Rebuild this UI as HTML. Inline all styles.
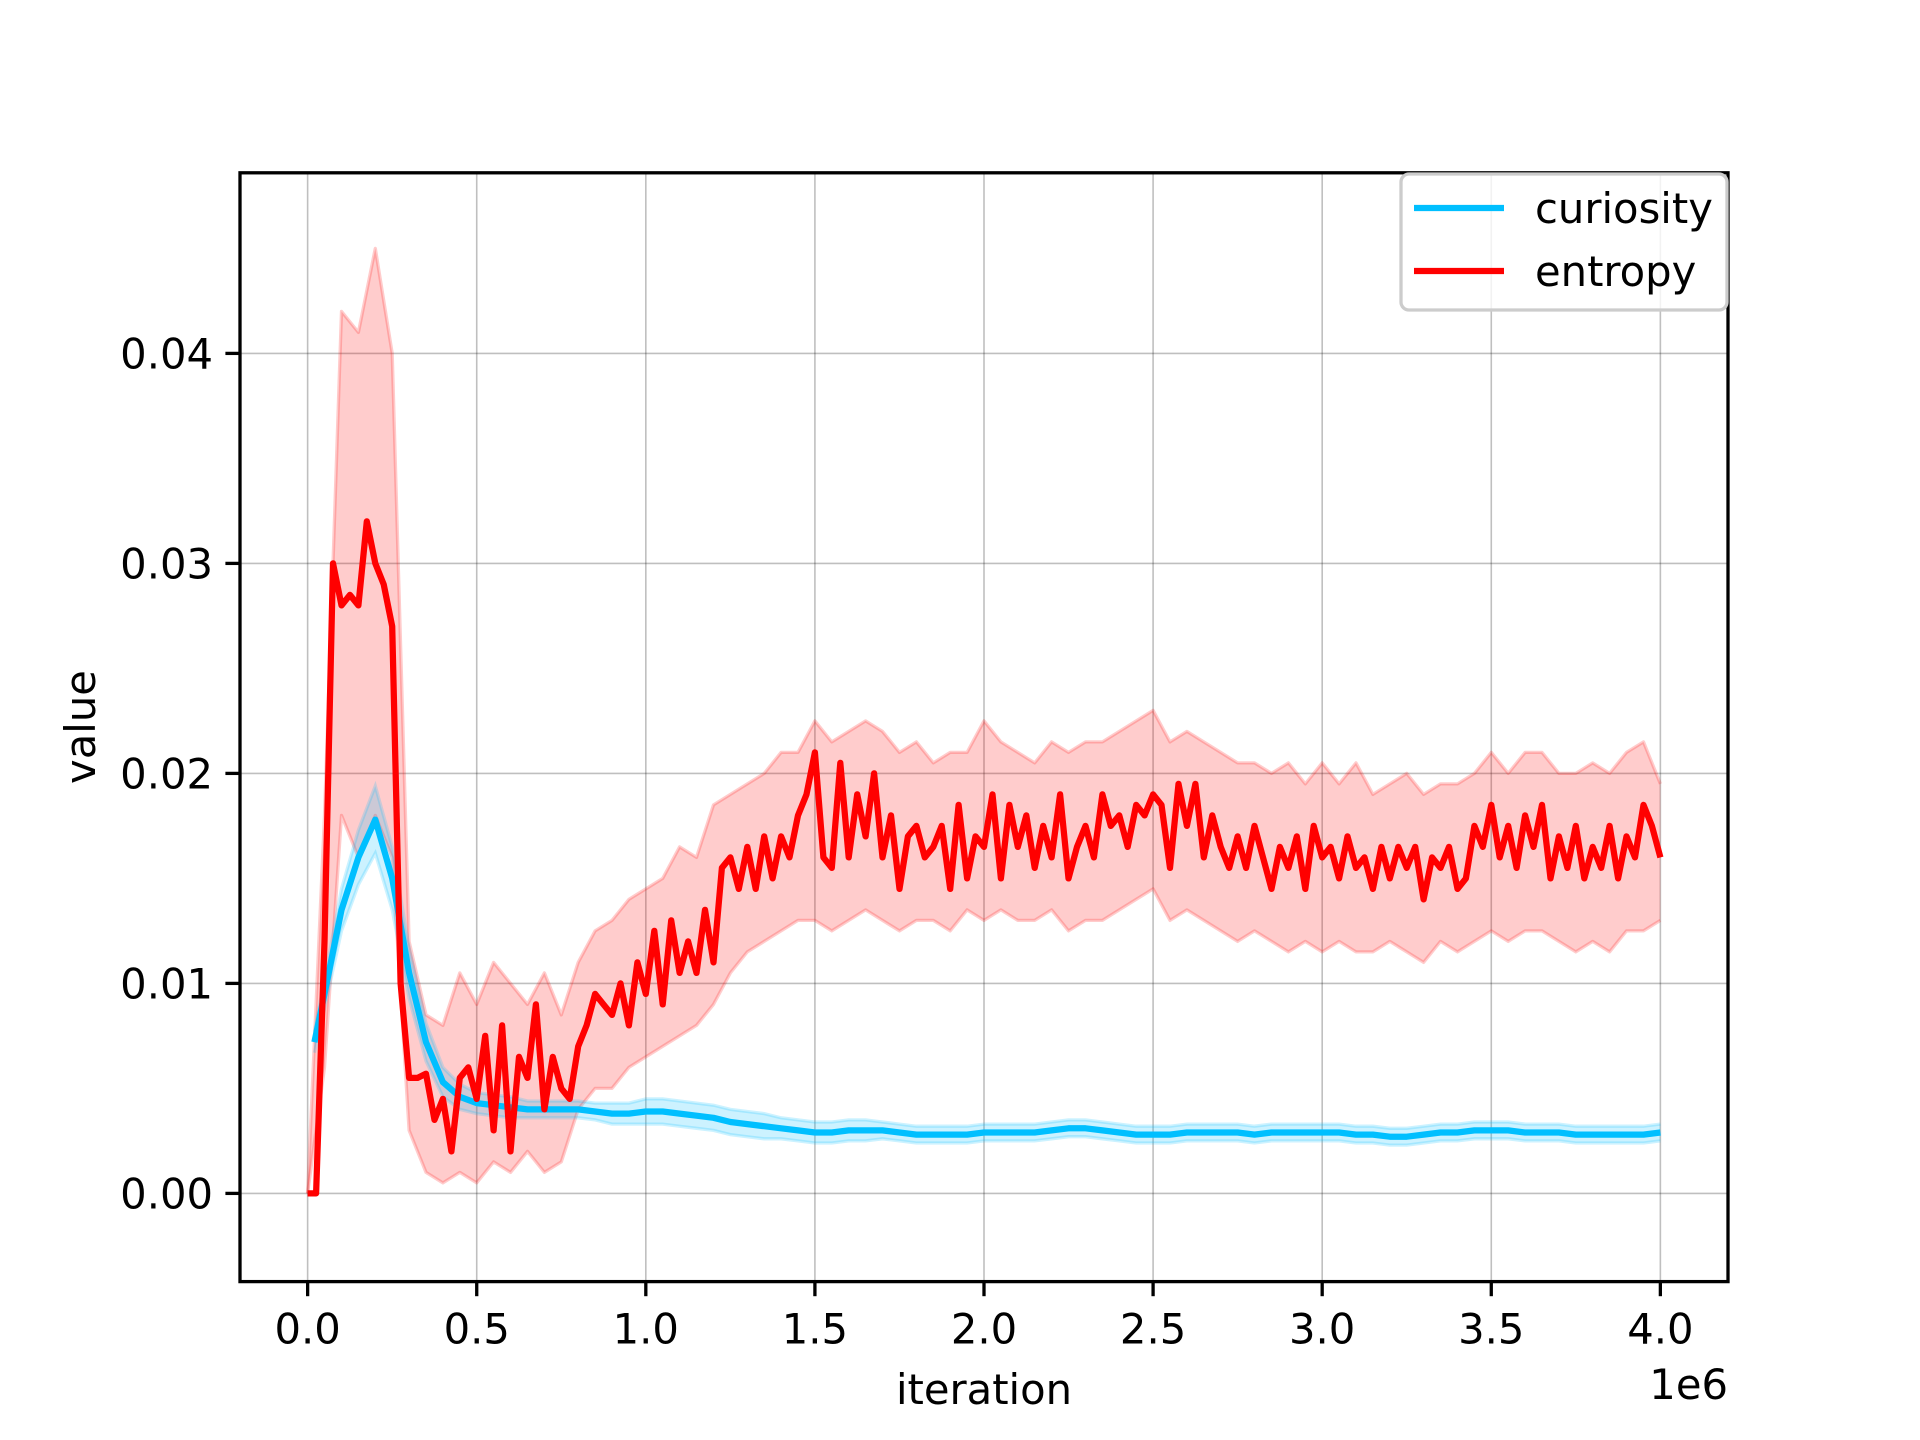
<!DOCTYPE html>
<html><head><meta charset="utf-8"><style>
html,body{margin:0;padding:0;background:#fff;}
svg{display:block;font-family:"DejaVu Sans","Liberation Sans",sans-serif;}
</style></head><body>
<svg id="chart" width="1920" height="1440" viewBox="0 0 1920 1440" xmlns="http://www.w3.org/2000/svg">
<rect width="1920" height="1440" fill="#fff"/>
<g id="grid"></g>
<g id="series"></g>
<g id="axes"></g>
<g id="legend"></g>
</svg>
<script>
const xTicks = [0, 0.5, 1.0, 1.5, 2.0, 2.5, 3.0, 3.5, 4.0];
const xTickLabels = ["0.0","0.5","1.0","1.5","2.0","2.5","3.0","3.5","4.0"];
const yTicks = [0, 0.01, 0.02, 0.03, 0.04];
const yTickLabels = ["0.00","0.01","0.02","0.03","0.04"];
const redStep = 0.025;
const redMean = [0,0,0.012,0.030,0.028,0.0285,0.028,0.032,0.030,0.029,0.027,0.010,0.0055,0.0055,0.0057,0.0035,0.0045,0.002,0.0055,0.006,
0.0045,0.0075,0.003,0.008,0.002,0.0065,0.0055,0.009,0.004,0.0065,0.005,0.0045,0.007,0.008,0.0095,0.009,0.0085,0.010,0.008,0.011,
0.0095,0.0125,0.009,0.013,0.0105,0.012,0.0105,0.0135,0.011,0.0155,0.016,0.0145,0.0165,0.0145,0.017,0.015,0.017,0.016,0.018,0.019,
0.021,0.016,0.0155,0.0205,0.016,0.019,0.017,0.020,0.016,0.018,0.0145,0.017,0.0175,0.016,0.0165,0.0175,0.0145,0.0185,0.015,0.017,
0.0165,0.019,0.015,0.0185,0.0165,0.018,0.0155,0.0175,0.016,0.019,0.015,0.0165,0.0175,0.016,0.019,0.0175,0.018,0.0165,0.0185,0.018,
0.019,0.0185,0.0155,0.0195,0.0175,0.0195,0.016,0.018,0.0165,0.0155,0.017,0.0155,0.0175,0.016,0.0145,0.0165,0.0155,0.017,0.0145,0.0175,
0.016,0.0165,0.015,0.017,0.0155,0.016,0.0145,0.0165,0.015,0.0165,0.0155,0.0165,0.014,0.016,0.0155,0.0165,0.0145,0.015,0.0175,0.0165,
0.0185,0.016,0.0175,0.0155,0.018,0.0165,0.0185,0.015,0.017,0.0155,0.0175,0.015,0.0165,0.0155,0.0175,0.015,0.017,0.016,0.0185,0.0175,0.016];
const bandStep = 0.05;
const redUpper = [0,0.018,0.042,0.041,0.045,0.040,0.012,0.0085,0.008,0.0105,0.009,0.011,0.010,0.009,0.0105,0.0085,0.011,0.0125,0.013,0.014,
0.0145,0.015,0.0165,0.016,0.0185,0.019,0.0195,0.020,0.021,0.021,0.0225,0.0215,0.022,0.0225,0.022,0.021,0.0215,0.0205,0.021,0.021,
0.0225,0.0215,0.021,0.0205,0.0215,0.021,0.0215,0.0215,0.022,0.0225,0.023,0.0215,0.022,0.0215,0.021,0.0205,0.0205,0.020,0.0205,0.0195,
0.0205,0.0195,0.0205,0.019,0.0195,0.020,0.019,0.0195,0.0195,0.020,0.021,0.020,0.021,0.021,0.020,0.020,0.0205,0.020,0.021,0.0215,0.0195];
const redLower = [0,0.006,0.018,0.016,0.018,0.016,0.003,0.001,0.0005,0.001,0.0005,0.0015,0.001,0.002,0.001,0.0015,0.004,0.005,0.005,0.006,
0.0065,0.007,0.0075,0.008,0.009,0.0105,0.0115,0.012,0.0125,0.013,0.013,0.0125,0.013,0.0135,0.013,0.0125,0.013,0.013,0.0125,0.0135,
0.013,0.0135,0.013,0.013,0.0135,0.0125,0.013,0.013,0.0135,0.014,0.0145,0.013,0.0135,0.013,0.0125,0.012,0.0125,0.012,0.0115,0.012,
0.0115,0.012,0.0115,0.0115,0.012,0.0115,0.011,0.012,0.0115,0.012,0.0125,0.012,0.0125,0.0125,0.012,0.0115,0.012,0.0115,0.0125,0.0125,0.013];
const blueIter = [0.02,0.05,0.1,0.15,0.2,0.25,0.3,0.35,0.4,0.45,0.5,0.55,0.6,0.65,0.7,0.75,0.8,0.85,0.9,0.95,1.0,1.05,1.1,1.15,1.2,1.25,1.3,1.35,1.4,1.45,1.5,1.55,1.6,1.65,1.7,1.75,1.8,1.85,1.9,1.95,2.0,2.05,2.1,2.15,2.2,2.25,2.3,2.35,2.4,2.45,2.5,2.55,2.6,2.65,2.7,2.75,2.8,2.85,2.9,2.95,3.0,3.05,3.1,3.15,3.2,3.25,3.3,3.35,3.4,3.45,3.5,3.55,3.6,3.65,3.7,3.75,3.8,3.85,3.9,3.95,4.0];
const blueMean = [0.0072,0.0095,0.0135,0.016,0.0178,0.015,0.0105,0.0072,0.0053,0.0046,0.0043,0.0042,0.0041,0.004,0.004,0.004,0.004,0.0039,0.0038,0.0038,
0.0039,0.0039,0.0038,0.0037,0.0036,0.0034,0.0033,0.0032,0.0031,0.003,0.0029,0.0029,0.003,0.003,0.003,0.0029,0.0028,0.0028,0.0028,0.0028,
0.0029,0.0029,0.0029,0.0029,0.003,0.0031,0.0031,0.003,0.0029,0.0028,0.0028,0.0028,0.0029,0.0029,0.0029,0.0029,0.0028,0.0029,0.0029,0.0029,
0.0029,0.0029,0.0028,0.0028,0.0027,0.0027,0.0028,0.0029,0.0029,0.003,0.003,0.003,0.0029,0.0029,0.0029,0.0028,0.0028,0.0028,0.0028,0.0028,0.0029];
const blueSpread = [0.0005,0.0007,0.001,0.0013,0.0016,0.0015,0.0012,0.0009,0.0007,0.0006,0.0005,0.0005,0.0005,0.0004,0.0004,0.0004,0.0004,0.0004,0.0005,0.0005,
0.0006,0.0006,0.0006,0.0006,0.0006,0.0006,0.0006,0.0006,0.0005,0.0005,0.0005,0.0005,0.0005,0.0005,0.0004,0.0004,0.0004,0.0004,0.0004,0.0004,
0.0004,0.0004,0.0004,0.0004,0.0004,0.0004,0.0004,0.0004,0.0004,0.0004,0.0004,0.0004,0.0004,0.0004,0.0004,0.0004,0.0004,0.0004,0.0004,0.0004,
0.0004,0.0004,0.0004,0.0004,0.0004,0.0004,0.0004,0.0004,0.0004,0.0004,0.0004,0.0004,0.0004,0.0004,0.0004,0.0004,0.0004,0.0004,0.0004,0.0004,0.0004];

const NS = "http://www.w3.org/2000/svg";
const L = 240, R = 1728, T = 172.8, B = 1281.6;
const xMin = -0.2, xMax = 4.2, yMin = -0.0042, yMax = 0.0486;
function sx(v){ return L + (v - xMin) / (xMax - xMin) * (R - L); }
function sy(v){ return B - (v - yMin) / (yMax - yMin) * (B - T); }
function mk(tag, attrs, parent){ const e = document.createElementNS(NS, tag); for (const k in attrs) e.setAttribute(k, attrs[k]); parent.appendChild(e); return e; }
function pts(xs, ys){ return xs.map((x,i)=>sx(x).toFixed(1)+","+sy(ys[i]).toFixed(1)).join(" "); }

const grid = document.getElementById('grid');
const series = document.getElementById('series');
const axes = document.getElementById('axes');
const legend = document.getElementById('legend');

xTicks.forEach((t,i)=>{
  const g = mk('line',{x1:sx(t),x2:sx(t),y1:T,y2:B,stroke:'#000','stroke-opacity':0.25,'stroke-width':1.6},grid);
  
  
  const tk = mk('line',{x1:sx(t),x2:sx(t),y1:B,y2:B+14.6,stroke:'#000','stroke-width':3.3},axes);
  
  
  const tx = mk('text',{x:sx(t),y:B+62,'font-size':41.7,'text-anchor':'middle',fill:'#000'},axes);
  tx.textContent = xTickLabels[i];
  
  
});
yTicks.forEach((t,i)=>{
  const g = mk('line',{x1:L,x2:R,y1:sy(t),y2:sy(t),stroke:'#000','stroke-opacity':0.25,'stroke-width':1.6},grid);
  
  
  const tk = mk('line',{x1:L-14.6,x2:L,y1:sy(t),y2:sy(t),stroke:'#000','stroke-width':3.3},axes);
  
  
  const tx = mk('text',{x:L-27,y:sy(t)+15,'font-size':41.7,'text-anchor':'end',fill:'#000'},axes);
  tx.textContent = yTickLabels[i];
  
  
});

// red band
const bandX = redUpper.map((_,i)=>i*bandStep);
const redPoly = mk('polygon',{points:pts(bandX,redUpper)+" "+pts(bandX.slice().reverse(),redLower.slice().reverse()),fill:'#ff0000','fill-opacity':0.2,stroke:'none'},series);


[redUpper,redLower].forEach(arr=>{
  const e = mk('polyline',{points:pts(bandX,arr),fill:'none',stroke:'#ff0000','stroke-opacity':0.2,'stroke-width':3.3,'stroke-linejoin':'round'},series);
  
  
});
// blue band
const bUp = blueMean.map((v,i)=>v+blueSpread[i]);
const bLo = blueMean.map((v,i)=>v-blueSpread[i]);
const bluePoly = mk('polygon',{points:pts(blueIter,bUp)+" "+pts(blueIter.slice().reverse(),bLo.slice().reverse()),fill:'#00bfff','fill-opacity':0.2,stroke:'none'},series);


[bUp,bLo].forEach(arr=>{
  const e = mk('polyline',{points:pts(blueIter,arr),fill:'none',stroke:'#00bfff','stroke-opacity':0.2,'stroke-width':3.3},series);
  
  
});
const blueLine = mk('polyline',{points:pts(blueIter,blueMean),fill:'none',stroke:'#00bfff','stroke-width':6.25,'stroke-linejoin':'round'},series);


const redX = redMean.map((_,i)=>i*redStep);
const redLine = mk('polyline',{points:pts(redX,redMean),fill:'none',stroke:'#ff0000','stroke-width':6.25,'stroke-linejoin':'round'},series);



// spines
const frame = mk('rect',{x:L,y:T,width:R-L,height:B-T,fill:'none',stroke:'#000','stroke-width':3.3},axes);



const xl = mk('text',{x:(L+R)/2,y:1404,'font-size':41.7,'text-anchor':'middle',fill:'#000'},axes);
xl.textContent = 'iteration';


const off = mk('text',{x:R,y:1399,'font-size':41.7,'text-anchor':'end',fill:'#000'},axes);
off.textContent = '1e6';


const yl = mk('text',{x:0,y:0,'font-size':41.7,'text-anchor':'middle',fill:'#000',transform:'translate(95,727) rotate(-90)'},axes);
yl.textContent = 'value';



// legend
const lb = mk('rect',{x:1401,y:174,width:326,height:136,rx:8,fill:'#fff','fill-opacity':0.8,stroke:'#cccccc','stroke-width':3.3},legend);


const entries = [['curiosity','#00bfff',208],['entropy','#ff0000',271]];
entries.forEach(en=>{
  const ln = mk('line',{x1:1414,x2:1504,y1:en[2],y2:en[2],stroke:en[1],'stroke-width':6.25},legend);
  
  
  const t = mk('text',{x:1535,y:en[2]+15,'font-size':41.7,fill:'#000'},legend);
  t.textContent = en[0];
  
  
});
</script>
</body></html>
